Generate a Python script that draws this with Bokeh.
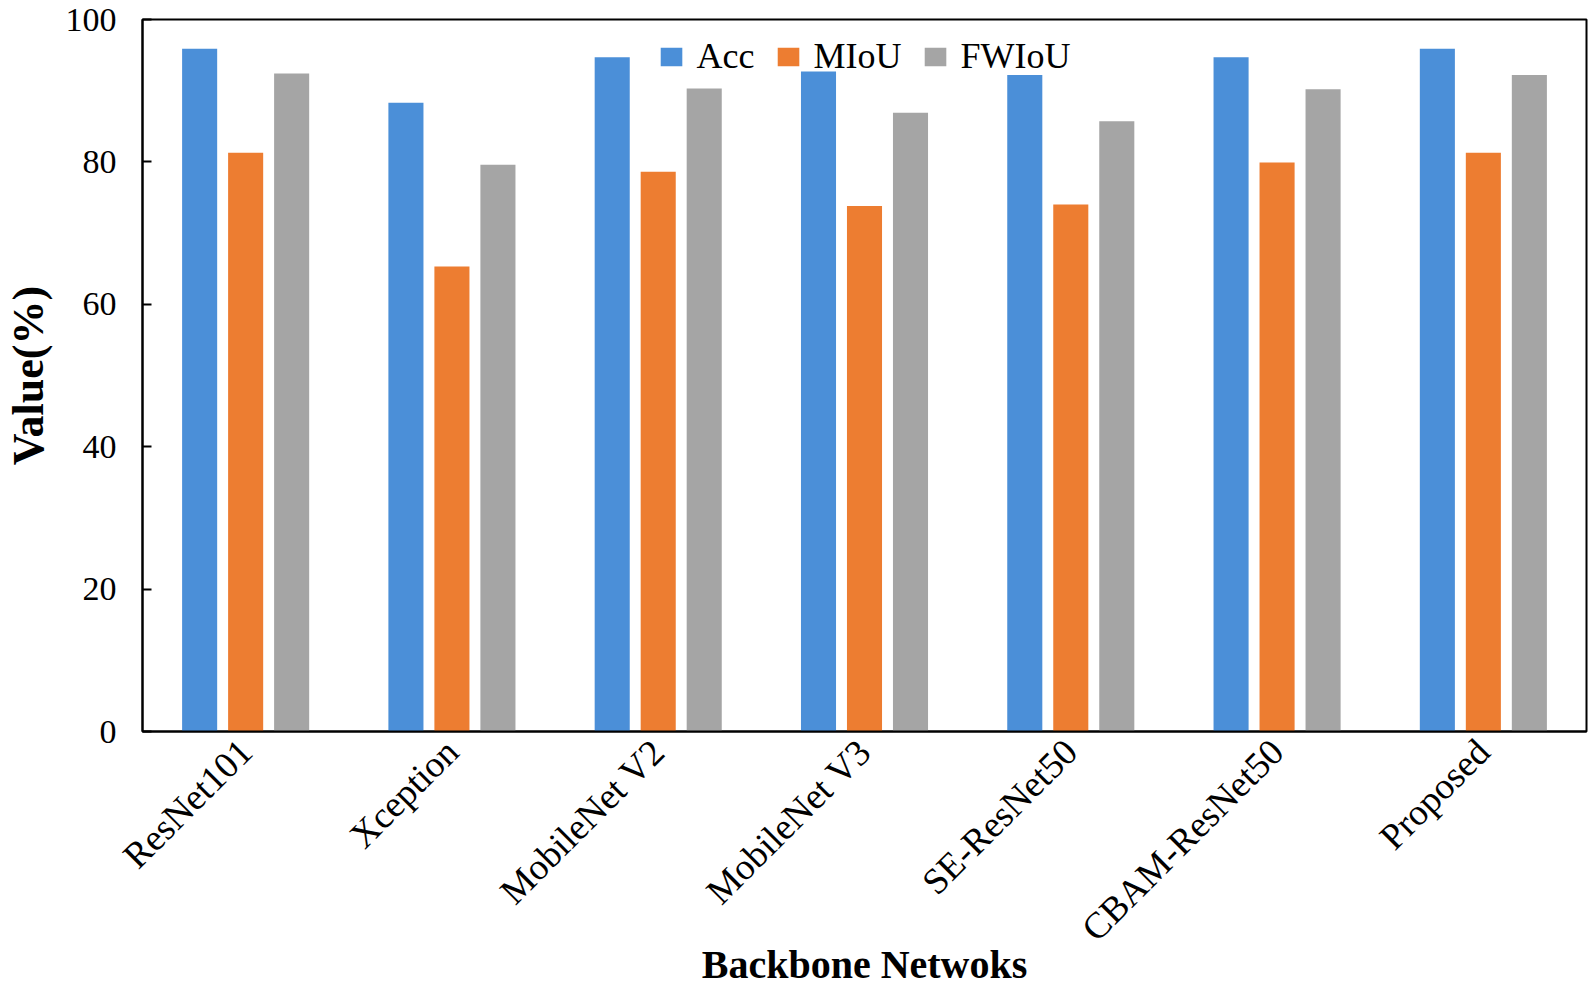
import math
from bokeh.plotting import figure
from bokeh.models import ColumnDataSource, FactorRange, Range1d, FixedTicker, Legend, LegendItem
from bokeh.transform import dodge
from bokeh.embed import file_html
from bokeh.resources import INLINE

categories = ["ResNet101", "Xception", "MobileNet V2", "MobileNet V3",
              "SE-ResNet50", "CBAM-ResNet50", "Proposed"]
acc = [95.9, 88.3, 94.7, 92.7, 92.2, 94.7, 95.9]
miou = [81.3, 65.3, 78.6, 73.8, 74.0, 79.9, 81.3]
fwiou = [92.4, 79.6, 90.3, 86.9, 85.7, 90.2, 92.2]
y_ticks = [0, 20, 40, 60, 80, 100]

FONT = "Liberation Serif"

source = ColumnDataSource(dict(cat=categories, acc=acc, miou=miou, fwiou=fwiou))

p = figure(x_range=FactorRange(*categories, range_padding=0),
           y_range=Range1d(0, 100),
           frame_width=1444, frame_height=712,
           output_backend="svg", toolbar_location=None,
           min_border_left=134, min_border_right=4,
           min_border_top=19, min_border_bottom=2)

w = 0.17
r1 = p.vbar(x=dodge("cat", -0.223, range=p.x_range), top="acc", width=w,
            source=source, fill_color="#4b8fd8", line_color=None)
r2 = p.vbar(x=dodge("cat", 0.0, range=p.x_range), top="miou", width=w,
            source=source, fill_color="#ed7d31", line_color=None)
r3 = p.vbar(x=dodge("cat", 0.223, range=p.x_range), top="fwiou", width=w,
            source=source, fill_color="#a5a5a5", line_color=None)

legend = Legend(items=[LegendItem(label="Acc", renderers=[r1]),
                       LegendItem(label="MIoU", renderers=[r2]),
                       LegendItem(label="FWIoU", renderers=[r3])],
                location="top_center", orientation="horizontal",
                background_fill_alpha=0, border_line_color=None,
                label_text_font=FONT, label_text_font_size="36px",
                label_text_color="black",
                glyph_width=27, glyph_height=23, label_standoff=12,
                spacing=20, margin=16, padding=4)
p.add_layout(legend)

p.xgrid.grid_line_color = None
p.ygrid.grid_line_color = None
p.outline_line_color = "black"
p.outline_line_width = 2
p.background_fill_color = "white"
p.border_fill_color = "white"

p.yaxis.ticker = FixedTicker(ticks=y_ticks)
p.yaxis.axis_line_width = 2
p.yaxis.axis_line_color = "black"
p.yaxis.major_tick_in = 9
p.yaxis.major_tick_out = 0
p.yaxis.major_tick_line_width = 2
p.yaxis.minor_tick_line_color = None
p.yaxis.major_label_text_font = FONT
p.yaxis.major_label_text_font_size = "34px"
p.yaxis.major_label_text_color = "black"
p.yaxis.major_label_standoff = 26
p.yaxis.axis_label = "Value(%)"
p.yaxis.axis_label_text_font = FONT
p.yaxis.axis_label_text_font_size = "44px"
p.yaxis.axis_label_text_font_style = "bold"
p.yaxis.axis_label_text_color = "black"
p.yaxis.axis_label_standoff = 10

p.xaxis.axis_line_width = 2
p.xaxis.axis_line_color = "black"
p.xaxis.major_tick_line_color = None
p.xaxis.minor_tick_line_color = None
p.xaxis.major_label_orientation = math.pi / 4
p.xaxis.major_label_text_font = FONT
p.xaxis.major_label_text_font_size = "37px"
p.xaxis.major_label_text_color = "black"
p.xaxis.major_label_standoff = 8
p.xaxis.axis_label = "Backbone Netwoks"
p.xaxis.axis_label_text_font = FONT
p.xaxis.axis_label_text_font_size = "40px"
p.xaxis.axis_label_text_font_style = "bold"
p.xaxis.axis_label_text_color = "black"
p.xaxis.axis_label_standoff = -24

open("out.html", "w").write(file_html(p, INLINE))
